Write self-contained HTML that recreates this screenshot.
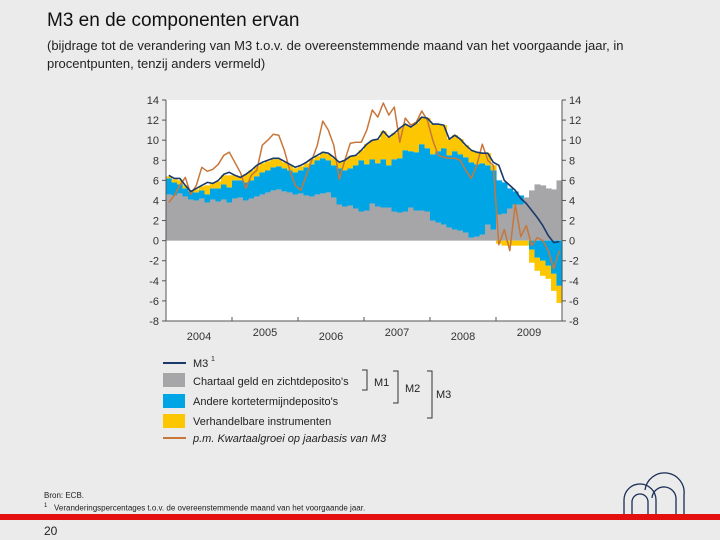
<!DOCTYPE html>
<html><head><meta charset="utf-8"><style>
body{margin:0;width:720px;height:540px;background:#ebebeb;font-family:"Liberation Sans",sans-serif;overflow:hidden;position:relative}
.t{position:absolute;white-space:nowrap;color:#222}
</style></head><body>
<div class="t" style="left:47px;top:10px;font-size:19px;color:#111">M3 en de componenten ervan</div>
<div class="t" style="left:47px;top:37px;font-size:13px;line-height:18px;white-space:normal;width:640px">(bijdrage tot de verandering van M3 t.o.v. de overeenstemmende maand van het voorgaande jaar, in procentpunten, tenzij anders vermeld)</div>
<svg id="chart" width="720" height="540" style="position:absolute;left:0;top:0" xmlns="http://www.w3.org/2000/svg"></svg>
<div class="t" style="left:44px;top:491px;font-size:8px">Bron: ECB.</div>
<div class="t" style="left:44px;top:503px;font-size:8px"><sup style="font-size:6px">1</sup>&nbsp;&nbsp;&nbsp;Veranderingspercentages t.o.v. de overeenstemmende maand van het voorgaande jaar.</div>
<div style="position:absolute;left:0;top:514px;width:720px;height:6px;background:#e3100f"></div>
<div class="t" style="left:44px;top:524px;font-size:12px">20</div>
<script>
const years=["2004","2005","2006","2007","2008","2009"];
const yTicks=[14,12,10,8,6,4,2,0,-2,-4,-6,-8];
const gray=[4.6,4.5,4.7,4.4,4.1,4.0,4.2,3.8,4.1,3.9,4.1,3.8,
4.2,4.3,4.0,4.2,4.4,4.6,4.8,5.0,5.1,4.9,4.8,4.6,
4.7,4.5,4.4,4.6,4.7,4.8,4.3,3.6,3.4,3.5,3.2,2.9,
3.0,3.7,3.4,3.3,3.3,2.9,2.8,2.9,3.3,3.0,3.0,2.9,
2.0,1.8,1.6,1.3,1.1,1.0,0.8,0.3,0.4,0.6,1.6,1.1,
2.6,2.7,3.2,3.6,3.6,4.3,5.0,5.6,5.5,5.2,5.1,6.0];
const blue=[1.6,1.3,0.9,0.8,0.8,0.8,0.8,0.8,1.1,1.3,1.5,1.5,
1.8,1.7,1.8,1.8,2.0,2.2,2.2,2.3,2.3,2.3,2.2,2.2,
2.3,2.8,3.2,3.4,3.5,3.2,3.2,3.6,3.6,3.7,4.3,5.1,
4.6,4.4,4.3,4.8,4.2,5.2,5.4,6.1,5.6,5.8,6.6,6.3,
6.6,7.1,7.6,7.2,7.8,7.6,7.5,7.5,7.2,7.1,5.9,5.9,
3.4,3.1,2.0,1.3,0.9,0.0,-0.9,-1.7,-2.0,-2.5,-3.3,-4.5];
const yellow=[0.2,0.3,0.4,0.3,0.1,0.3,0.4,0.9,0.5,0.7,0.9,1.2,
0.5,0.3,0.8,1.0,1.0,0.9,0.9,0.8,0.7,0.6,0.5,0.4,
0.4,0.4,0.5,0.4,0.5,0.6,0.7,0.6,1.0,1.2,1.0,1.0,
2.0,1.9,2.4,2.8,2.8,2.6,3.0,2.6,2.4,2.9,2.7,3.0,
3.0,2.7,2.3,1.6,1.6,1.5,1.2,1.2,1.2,1.0,1.2,0.5,
-0.3,-0.5,-0.5,-0.5,-0.5,-0.5,-1.3,-1.3,-1.5,-1.3,-1.7,-1.7];
const m3=[6.5,6.2,6.2,5.5,4.9,5.2,5.5,5.8,5.7,6.0,6.6,6.8,
6.5,6.3,6.6,7.0,7.5,7.8,8.0,8.2,8.2,7.9,7.6,7.3,
7.5,7.8,8.2,8.5,8.8,8.7,8.3,7.8,8.0,8.4,8.5,9.0,
9.6,10.0,10.1,10.9,10.3,10.7,11.2,11.6,11.3,11.7,12.3,12.2,
11.6,11.6,11.5,10.1,10.5,10.1,9.5,9.0,8.8,8.7,8.7,7.8,
7.5,6.0,5.5,5.0,4.2,3.7,3.0,2.3,1.5,0.5,-0.2,-0.1];
const quarterly=[3.8,4.5,5.5,6.3,4.6,5.5,7.3,6.9,7.1,7.6,8.5,8.8,
7.8,6.8,5.2,6.5,7.0,9.5,10.0,10.6,10.5,9.0,7.0,5.5,
5.0,6.5,8.0,9.5,11.9,11.0,9.5,6.1,8.0,9.7,9.8,9.8,
11.0,13.0,12.3,13.7,12.5,13.3,9.8,12.2,11.5,11.8,12.9,12.0,
10.0,8.5,8.3,8.2,8.2,8.0,7.0,6.2,7.5,9.6,8.0,7.5,
-0.4,1.1,-1.0,3.6,0.4,1.5,-0.5,0.3,0.0,-1.0,-2.8,-1.0];

const svg=document.getElementById('chart');
const NS='http://www.w3.org/2000/svg';
const X0=166,X1=562,Y0=100,Y1=321,VMAX=14,VMIN=-8;
const n=gray.length, w=(X1-X0)/n;
function xs(i){return X0+i*w;}
function ys(v){return Y0+(VMAX-v)/(VMAX-VMIN)*(Y1-Y0);}
function mk(tag,attrs,name,parent){const e=document.createElementNS(NS,tag);for(const k in attrs)e.setAttribute(k,attrs[k]);


(parent||svg).appendChild(e);return e;}
mk('rect',{x:X0,y:Y0,width:X1-X0,height:Y1-Y0,fill:'#fff'},'plot-area');
const gBars=mk('g',{},'stacked-bars');
for(let i=0;i<n;i++){
  let pos=0,neg=0;
  [[gray[i],'#a6a6a8','bar-currency-deposits'],[blue[i],'#00a5e6','bar-other-deposits'],[yellow[i],'#fcc700','bar-marketable']].forEach(([v,c,nm])=>{
    if(v>=0){mk('rect',{x:xs(i),y:ys(pos+v),width:w+0.6,height:ys(pos)-ys(pos+v),fill:c},nm,gBars);pos+=v;}
    else{mk('rect',{x:xs(i),y:ys(neg),width:w+0.6,height:ys(neg+v)-ys(neg),fill:c},nm,gBars);neg+=v;}
  });
}
function line(arr,col,nm,sw){let d='';arr.forEach((v,i)=>{d+=(i?'L':'M')+(xs(i)+w/2).toFixed(1)+','+ys(v).toFixed(1);});
mk('path',{d:d,fill:'none',stroke:col,'stroke-width':sw,'stroke-linejoin':'round'},nm);}
line(quarterly,'#c8763a','quarterly-growth-line',1.5);
line(m3,'#1a3a6b','m3-line',1.6);
mk('line',{x1:X0,y1:Y0,x2:X0,y2:Y1,stroke:'#555','stroke-width':1},'left-axis');
mk('line',{x1:X1,y1:Y0,x2:X1,y2:Y1,stroke:'#555','stroke-width':1},'right-axis');
mk('line',{x1:X0,y1:Y1,x2:X1,y2:Y1,stroke:'#555','stroke-width':1},'x-axis');
yTicks.forEach(v=>{const y=ys(v);
 mk('line',{x1:X0-4,y1:y,x2:X0,y2:y,stroke:'#555'},'y-tick-left');
 mk('line',{x1:X1,y1:y,x2:X1+4,y2:y,stroke:'#555'},'y-tick-right');
 const a=mk('text',{x:X0-7,y:y+4,'text-anchor':'end','font-size':11,fill:'#333'},'y-tick-label-left');a.textContent=v;
 const b=mk('text',{x:X1+7,y:y+4,'font-size':11,fill:'#333'},'y-tick-label-right');b.textContent=v;
});
years.forEach((yr,k)=>{
 if(k>0) mk('line',{x1:xs(k*12),y1:Y1-4,x2:xs(k*12),y2:Y1,stroke:'#555'},'x-tick');
 const t=mk('text',{x:xs(k*12+6),y:(k%2?336:340),'text-anchor':'middle','font-size':11,fill:'#333'},'x-tick-label');t.textContent=yr;
});
// legend
const L=mk('g',{},'legend');
mk('line',{x1:163,y1:363,x2:186,y2:363,stroke:'#1a3a6b','stroke-width':2},'legend-m3-swatch',L);
mk('rect',{x:163,y:373,width:22,height:14,fill:'#a6a6a8'},'legend-gray-swatch',L);
mk('rect',{x:163,y:394,width:22,height:14,fill:'#00a5e6'},'legend-blue-swatch',L);
mk('rect',{x:163,y:414,width:22,height:14,fill:'#fcc700'},'legend-yellow-swatch',L);
mk('line',{x1:163,y1:438,x2:186,y2:438,stroke:'#c8763a','stroke-width':2},'legend-quarterly-swatch',L);
[['M3',367,'legend-m3-label',''],['Chartaal geld en zichtdeposito\'s',385,'legend-gray-label',''],['Andere kortetermijndeposito\'s',405,'legend-blue-label',''],['Verhandelbare instrumenten',425,'legend-yellow-label',''],['p.m. Kwartaalgroei op jaarbasis van M3',442,'legend-quarterly-label','italic']].forEach(([s,y,nm,st])=>{
 const t=mk('text',{x:193,y:y,'font-size':11,fill:'#222','font-style':st||'normal'},nm,L);t.textContent=s;});
const sup=mk('text',{x:211,y:361,'font-size':7,fill:'#222'},'legend-m3-superscript',L);sup.textContent='1';
[[362,370,390,'M1',374,386],[393,371,403,'M2',405,392],[427,371,418,'M3',436,398]].forEach(([x,a,b,s,tx,ty])=>{
 mk('path',{d:`M${x},${a}H${x+5}V${b}H${x}`,fill:'none',stroke:'#333'},'bracket-'+s.toLowerCase(),L);
 const t=mk('text',{x:tx,y:ty,'font-size':11,fill:'#222'},'bracket-label-'+s.toLowerCase(),L);t.textContent=s;});
// logo
const G=mk('g',{fill:'none',stroke:'#1a2e55','stroke-width':1.3},'logo');
mk('path',{d:'M624,514V500A16,16 0 0 1 656,500V514'},'logo-arch-1',G);
mk('path',{d:'M632,514V502A8,8 0 0 1 648,502V514'},'logo-arch-1-inner',G);
mk('path',{d:'M645,490A19,19 0 0 1 684,495V514'},'logo-arch-2',G);
mk('path',{d:'M652,498A12,12 0 0 1 676,500V514'},'logo-arch-2-inner',G);
</script>
</body></html>
